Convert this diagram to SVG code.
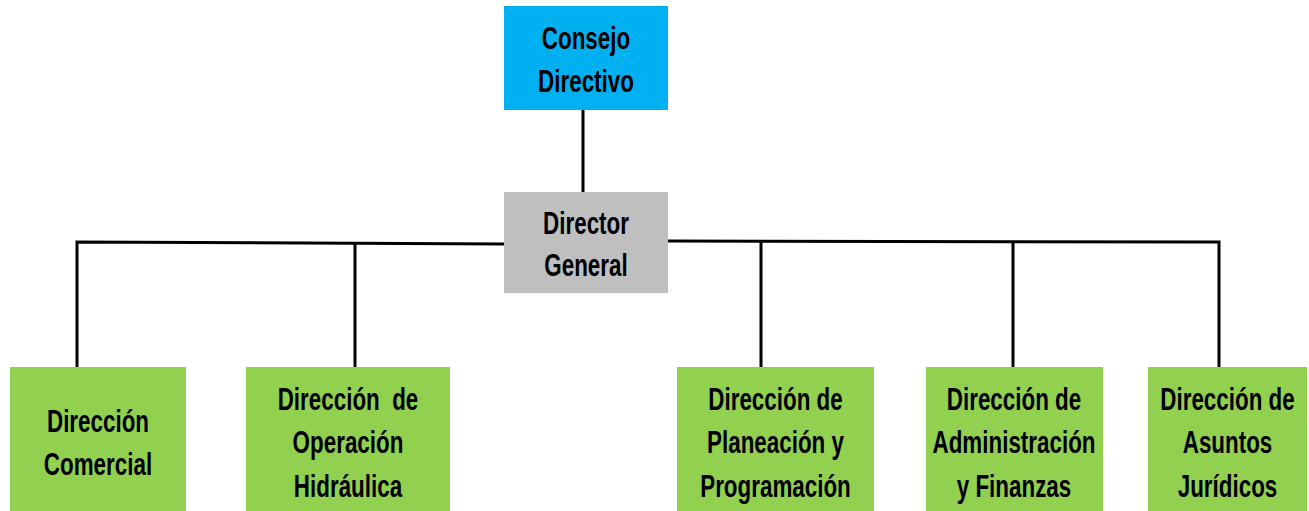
<svg xmlns="http://www.w3.org/2000/svg" width="1309" height="511" viewBox="0 0 1309 511">
<style>
text{font-family:"Liberation Sans",Arial,sans-serif;font-weight:bold;font-size:32px;fill:#000;text-anchor:middle}
.c{stroke:#000;stroke-width:3;fill:none}
</style>
<rect width="1309" height="511" fill="#fff"/>
<g id="connectors">
<line class="c" x1="583" y1="110" x2="583" y2="192"/>
<polyline class="c" points="504,244 77,242 77,367"/>
<line class="c" x1="355" y1="243" x2="355" y2="367"/>
<polyline class="c" points="668,241 1219,242 1219,367"/>
<line class="c" x1="761" y1="241" x2="761" y2="367"/>
<line class="c" x1="1013" y1="242" x2="1013" y2="367"/>
</g>
<g id="consejo">
<rect x="504" y="6" width="164" height="104" fill="#00B0F0"/>
<text transform="translate(586,49) scale(0.7,1)">Consejo</text>
<text transform="translate(586,92) scale(0.7,1)">Directivo</text>
</g>
<g id="director">
<rect x="504" y="192" width="164" height="101" fill="#BFBFBF"/>
<text transform="translate(586,234) scale(0.7,1)">Director</text>
<text transform="translate(586,276) scale(0.7,1)">General</text>
</g>
<g id="comercial">
<rect x="10" y="367" width="176" height="144" fill="#92D050"/>
<text transform="translate(98,432) scale(0.7,1)">Dirección</text>
<text transform="translate(98,475) scale(0.7,1)">Comercial</text>
</g>
<g id="operacion">
<rect x="246" y="367" width="204" height="144" fill="#92D050"/>
<text transform="translate(348,410) scale(0.7,1)" xml:space="preserve">Dirección  de</text>
<text transform="translate(348,453) scale(0.7,1)">Operación</text>
<text transform="translate(348,497) scale(0.7,1)">Hidráulica</text>
</g>
<g id="planeacion">
<rect x="677" y="367" width="197" height="144" fill="#92D050"/>
<text transform="translate(775.5,410) scale(0.7,1)">Dirección de</text>
<text transform="translate(775.5,453) scale(0.7,1)">Planeación y</text>
<text transform="translate(775.5,497) scale(0.7,1)">Programación</text>
</g>
<g id="administracion">
<rect x="926" y="367" width="177" height="144" fill="#92D050"/>
<text transform="translate(1014,410) scale(0.7,1)">Dirección de</text>
<text transform="translate(1014,453) scale(0.7,1)">Administración</text>
<text transform="translate(1014,497) scale(0.7,1)">y Finanzas</text>
</g>
<g id="juridicos">
<rect x="1148" y="367" width="159" height="144" fill="#92D050"/>
<text transform="translate(1227.5,410) scale(0.7,1)">Dirección de</text>
<text transform="translate(1227.5,453) scale(0.7,1)">Asuntos</text>
<text transform="translate(1227.5,497) scale(0.7,1)">Jurídicos</text>
</g>
</svg>
